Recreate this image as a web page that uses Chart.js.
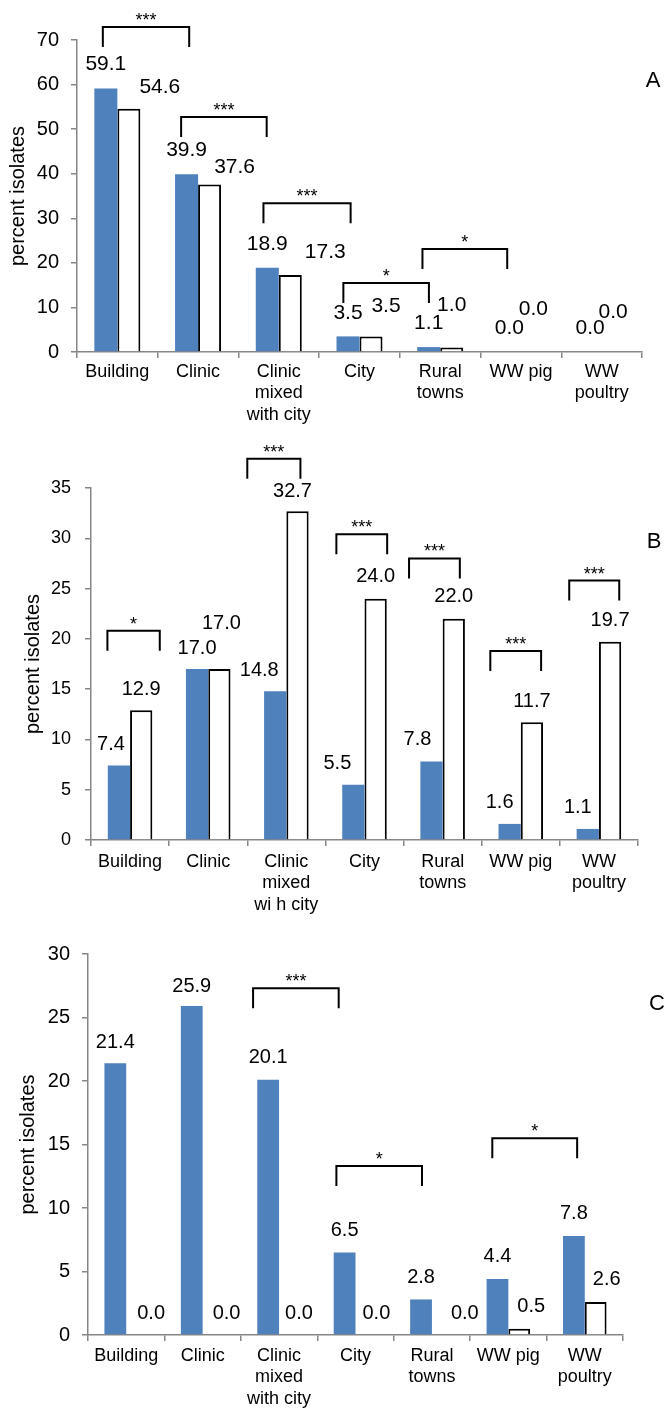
<!DOCTYPE html>
<html>
<head>
<meta charset="utf-8">
<script src="https://cdn.jsdelivr.net/npm/chart.js"></script>
<style>
  body { margin: 0; background: #fff; }
  #wrap { position: relative; width: 665px; height: 1409px; }
  canvas { position: absolute; left: 0; }
</style>
</head>
<body>
<div id="wrap">
  <canvas id="chartA" width="665" height="440" style="top:0px"></canvas>
  <canvas id="chartB" width="665" height="490" style="top:440px"></canvas>
  <canvas id="chartC" width="665" height="479" style="top:930px"></canvas>
</div>
<script>
// categories
const labelsA = ['Building', 'Clinic', ['Clinic', 'mixed', 'with city'], 'City', ['Rural', 'towns'], 'WW pig', ['WW', 'poultry']];
const labelsB = ['Building', 'Clinic', ['Clinic', 'mixed', 'wi h city'], 'City', ['Rural', 'towns'], 'WW pig', ['WW', 'poultry']];
const labelsC = labelsA;

// values (blue = filled bars, white = open bars)
const blueA = [59.1, 39.9, 18.9, 3.5, 1.1, 0.0, 0.0];
const whiteA = [54.6, 37.6, 17.3, 3.5, 1.0, 0.0, 0.0];
const blueB = [7.4, 17.0, 14.8, 5.5, 7.8, 1.6, 1.1];
const whiteB = [12.9, 17.0, 32.7, 24.0, 22.0, 11.7, 19.7];
const blueC = [21.4, 25.9, 20.1, 6.5, 2.8, 4.4, 7.8];
const whiteC = [0.0, 0.0, 0.0, 0.0, 0.0, 0.5, 2.6];

// significance brackets: [from category, to category, y value, label]
const bracketsA = [[-0.18, 0.89, 72.9, '***'], [0.79, 1.85, 52.7, '***'], [1.81, 2.89, 33.4, '***'], [2.8, 3.86, 15.5, '*'], [3.78, 4.83, 23.1, '*']];
const bracketsB = [[-0.29, 0.38, 20.8, '*'], [1.5, 2.18, 37.9, '***'], [2.64, 3.29, 30.4, '***'], [3.57, 4.22, 28.0, '***'], [4.61, 5.26, 18.8, '***'], [5.62, 6.26, 25.8, '***']];
const bracketsC = [[1.66, 2.78, 27.3, '***'], [2.75, 3.87, 13.3, '*'], [4.79, 5.9, 15.5, '*']];

// label nudges (px) relative to bar top, as placed in the original figure
const nudgeA = {
  blue: [[0, -24], [0, -24], [0, -24], [0, -23], [0, -24], [0, -24], [0, -24]],
  white: [[31, -21], [25, -17], [35, -23], [15, -30], [0, -42], [1, -43], [0, -40]]
};
const nudgeB = {
  blue: [[-8, -21], [0, -21], [-16, -21], [-16, -21], [-14, -22], [-10, -21], [-10, -21]],
  white: [[0, -21], [2, -46], [-5, -20], [0, -22], [0, -22], [0, -21], [0, -21]]
};
const nudgeC = {
  blue: [[0, -21], [0, -20], [0, -22], [0, -22], [0, -22], [0, -23], [0, -22]],
  white: [[14, -22], [13, -22], [9, -22], [10, -22], [22, -22], [12, -22], [11, -22]]
};

const GRAY = '#868686';
const BLUE = '#4F81BD';
const FONT = 'Liberation Sans, Arial, sans-serif';

const extras = {
  id: 'extras',
  afterDatasetsDraw(chart, args, opts) {
    const ctx = chart.ctx;
    const x = chart.scales.x, y = chart.scales.y;
    ctx.save();
    ctx.fillStyle = '#000';
    ctx.textAlign = 'center';
    ctx.textBaseline = 'middle';
    ctx.font = opts.valueSize + 'px ' + FONT;
    [opts.nudge.blue, opts.nudge.white].forEach((nudge, di) => {
      const meta = chart.getDatasetMeta(di);
      const vals = chart.data.datasets[di].data;
      meta.data.forEach((bar, i) => {
        ctx.fillText(vals[i].toFixed(1), bar.x + nudge[i][0], bar.y + nudge[i][1]);
      });
    });

    // brackets
    ctx.strokeStyle = '#000';
    ctx.lineWidth = 2;
    ctx.font = '18px ' + FONT;
    ctx.textBaseline = 'alphabetic';
    opts.brackets.forEach(b => {
      const x1 = x.getPixelForValue(b[0]);
      const x2 = x.getPixelForValue(b[1]);
      const yy = y.getPixelForValue(b[2]);
      ctx.beginPath();
      ctx.moveTo(x1, yy + 20);
      ctx.lineTo(x1, yy);
      ctx.lineTo(x2, yy);
      ctx.lineTo(x2, yy + 20);
      ctx.stroke();
      ctx.fillText(b[3], (x1 + x2) / 2, yy - 1);
    });

    // panel letter
    ctx.font = '22px ' + FONT;
    ctx.textBaseline = 'middle';
    ctx.fillText(opts.letter, opts.letterPos[0], opts.letterPos[1]);
    ctx.restore();
  }
};

function makePanel(id, p) {
  return new Chart(document.getElementById(id), {
    type: 'bar',
    data: {
      labels: p.labels,
      datasets: [
        { data: p.blue, backgroundColor: BLUE, borderWidth: 0 },
        { data: p.white, backgroundColor: '#fff', borderColor: '#000', borderWidth: 2 }
      ]
    },
    options: {
      responsive: false,
      animation: false,
      layout: { padding: { top: p.padTop, right: p.padRight, left: 0, bottom: 0 } },
      datasets: { bar: { categoryPercentage: 0.57, barPercentage: 1.0 } },
      plugins: {
        legend: { display: false },
        tooltip: { enabled: false },
        extras: {
          nudge: p.nudge, brackets: p.brackets, valueSize: p.valueSize,
          letter: p.letter, letterPos: p.letterPos
        }
      },
      scales: {
        x: {
          afterFit: s => { s.height = p.xHeight; },
          grid: { display: true, drawOnChartArea: false, tickLength: 6, color: GRAY, lineWidth: 1.5 },
          border: { color: GRAY, width: 1.5 },
          ticks: { color: '#000', font: { family: FONT, size: 18 }, padding: p.xPad, maxRotation: 0, autoSkip: false }
        },
        y: {
          min: 0, max: p.max,
          afterFit: s => { s.width = p.yWidth; },
          grid: { drawOnChartArea: false, tickLength: 6, color: GRAY, lineWidth: 1.5 },
          border: { color: GRAY, width: 1.5 },
          ticks: { stepSize: p.step, color: '#000', font: { family: FONT, size: p.yTickSize }, padding: p.yPad },
          title: {
            display: true, text: 'percent isolates', color: '#000',
            font: { family: FONT, size: 20 }, padding: { top: p.titlePad, bottom: 0 }
          }
        }
      }
    },
    plugins: [extras]
  });
}

makePanel('chartA', {
  labels: labelsA, blue: blueA, white: whiteA, nudge: nudgeA, brackets: bracketsA,
  max: 70, step: 10, padTop: 40, padRight: 23, xHeight: 88, yWidth: 77,
  xPad: 3, yPad: 12, yTickSize: 20, titlePad: 6, valueSize: 21,
  letter: 'A', letterPos: [653, 81]
});
makePanel('chartB', {
  labels: labelsB, blue: blueB, white: whiteB, nudge: nudgeB, brackets: bracketsB,
  max: 35, step: 5, padTop: 48, padRight: 27, xHeight: 90, yWidth: 91,
  xPad: 5, yPad: 14, yTickSize: 18, titlePad: 21, valueSize: 20,
  letter: 'B', letterPos: [654, 102]
});
makePanel('chartC', {
  labels: labelsC, blue: blueC, white: whiteC, nudge: nudgeC, brackets: bracketsC,
  max: 30, step: 5, padTop: 15, padRight: 42, xHeight: 74, yWidth: 88,
  xPad: 4, yPad: 12, yTickSize: 20, titlePad: 16, valueSize: 20,
  letter: 'C', letterPos: [657, 74]
});
</script>
</body>
</html>
